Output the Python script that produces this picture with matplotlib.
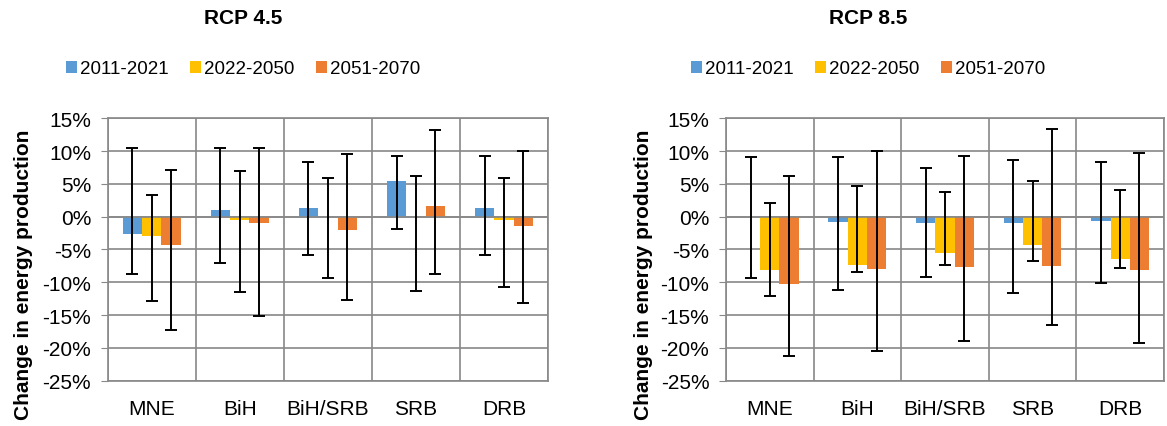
import numpy as np
import matplotlib
matplotlib.use("Agg")
from matplotlib import pyplot as plt

plt.rcParams['font.family'] = ['Liberation Sans', 'DejaVu Sans']

regions = ["MNE", "BiH", "BiH/SRB", "SRB", "DRB"]
periods = ["2011-2021", "2022-2050", "2051-2070"]
colors = ["#5B9BD5", "#FFC000", "#ED7D31"]

# RCP 4.5 : mean change (%) and min / max range
rcp45_mean = [[-2.6, 1.0, 1.4, 5.5, 1.4],
              [-2.9, -0.5, 0.0, 0.0, -0.45],
              [-4.3, -0.9, -2.0, 1.6, -1.4]]
rcp45_low = [[-8.8, -7.0, -5.8, -1.8, -5.8],
             [-12.9, -11.5, -9.3, -11.3, -10.7],
             [-17.2, -15.1, -12.7, -8.8, -13.2]]
rcp45_high = [[10.5, 10.5, 8.4, 9.25, 9.3],
              [3.3, 7.0, 5.9, 6.15, 5.85],
              [7.1, 10.4, 9.5, 13.2, 10.0]]

# RCP 8.5
rcp85_mean = [[-0.1, -0.75, -1.0, -0.9, -0.7],
              [-8.1, -7.4, -5.5, -4.3, -6.4],
              [-10.3, -7.9, -7.7, -7.5, -8.1]]
rcp85_low = [[-9.35, -11.2, -9.15, -11.6, -10.1],
             [-12.05, -8.5, -7.4, -6.75, -7.8],
             [-21.3, -20.5, -19.0, -16.5, -19.3]]
rcp85_high = [[9.05, 9.05, 7.5, 8.6, 8.4],
              [2.1, 4.7, 3.7, 5.4, 4.0],
              [6.2, 10.0, 9.25, 13.3, 9.75]]

fig = plt.figure(figsize=(11.67, 4.27), dpi=100)


def panel(rect, title, title_x, ylab_x, means, lows, highs):
    ax = fig.add_axes(rect)
    x = np.arange(len(regions))
    w = 0.22
    for i in range(3):
        m = np.array(means[i])
        lo = m - np.array(lows[i])
        hi = np.array(highs[i]) - m
        ax.bar(x + (i - 1) * w, m, w, color=colors[i], label=periods[i], zorder=2)
        ax.errorbar(x + (i - 1) * w, m, yerr=[lo, hi], fmt="none", ecolor="black",
                    elinewidth=1.4, capsize=4.5, capthick=1.4, zorder=4)
    ax.set_xlim(-0.5, 4.5)
    ax.set_ylim(-25, 15)
    ax.set_yticks(np.arange(-25, 16, 5))
    ax.set_yticklabels(["%d%%" % v for v in np.arange(-25, 16, 5)], fontsize=15)
    ax.set_xticks(x)
    ax.set_xticklabels(regions, fontsize=15)
    ax.set_xticks(np.arange(-0.5, 5, 1), minor=True)
    ax.tick_params(axis="x", which="major", length=0, pad=13)
    ax.tick_params(axis="x", which="minor", length=0)
    ax.tick_params(axis="y", length=5, color="#888888", pad=7)
    ax.grid(axis="y", color="#888888", linewidth=1.2, zorder=1)
    ax.grid(axis="x", which="minor", color="#888888", linewidth=1.2, zorder=1)
    ax.axhline(0, color="#888888", linewidth=1.2, zorder=3)
    for s in ax.spines.values():
        s.set_color("#888888")
        s.set_linewidth(1.2)
    ax.set_ylabel("Change in energy production", fontsize=15, fontweight="bold")
    ax.yaxis.set_label_coords(ylab_x, 1 - 275 / 427, transform=fig.transFigure)
    fig.text(title_x, 1 - 18 / 427, title, fontsize=15, fontweight="bold",
             ha="center", va="center")
    ax.legend(loc="center", bbox_to_anchor=(title_x, 1 - 70 / 427),
              bbox_transform=fig.transFigure, ncol=3, frameon=False,
              fontsize=13.5, handlelength=0.6, handleheight=0.6,
              handletextpad=0.15, columnspacing=1.15)
    return ax


panel([0.0923, 0.1061, 0.3773, 0.6145], "RCP 4.5", 243 / 1167, 33 / 1167,
      rcp45_mean, rcp45_low, rcp45_high)
panel([0.6221, 0.1061, 0.3753, 0.6145], "RCP 8.5", 868 / 1167, 653 / 1167,
      rcp85_mean, rcp85_low, rcp85_high)

fig.savefig("out.png", dpi=100)
